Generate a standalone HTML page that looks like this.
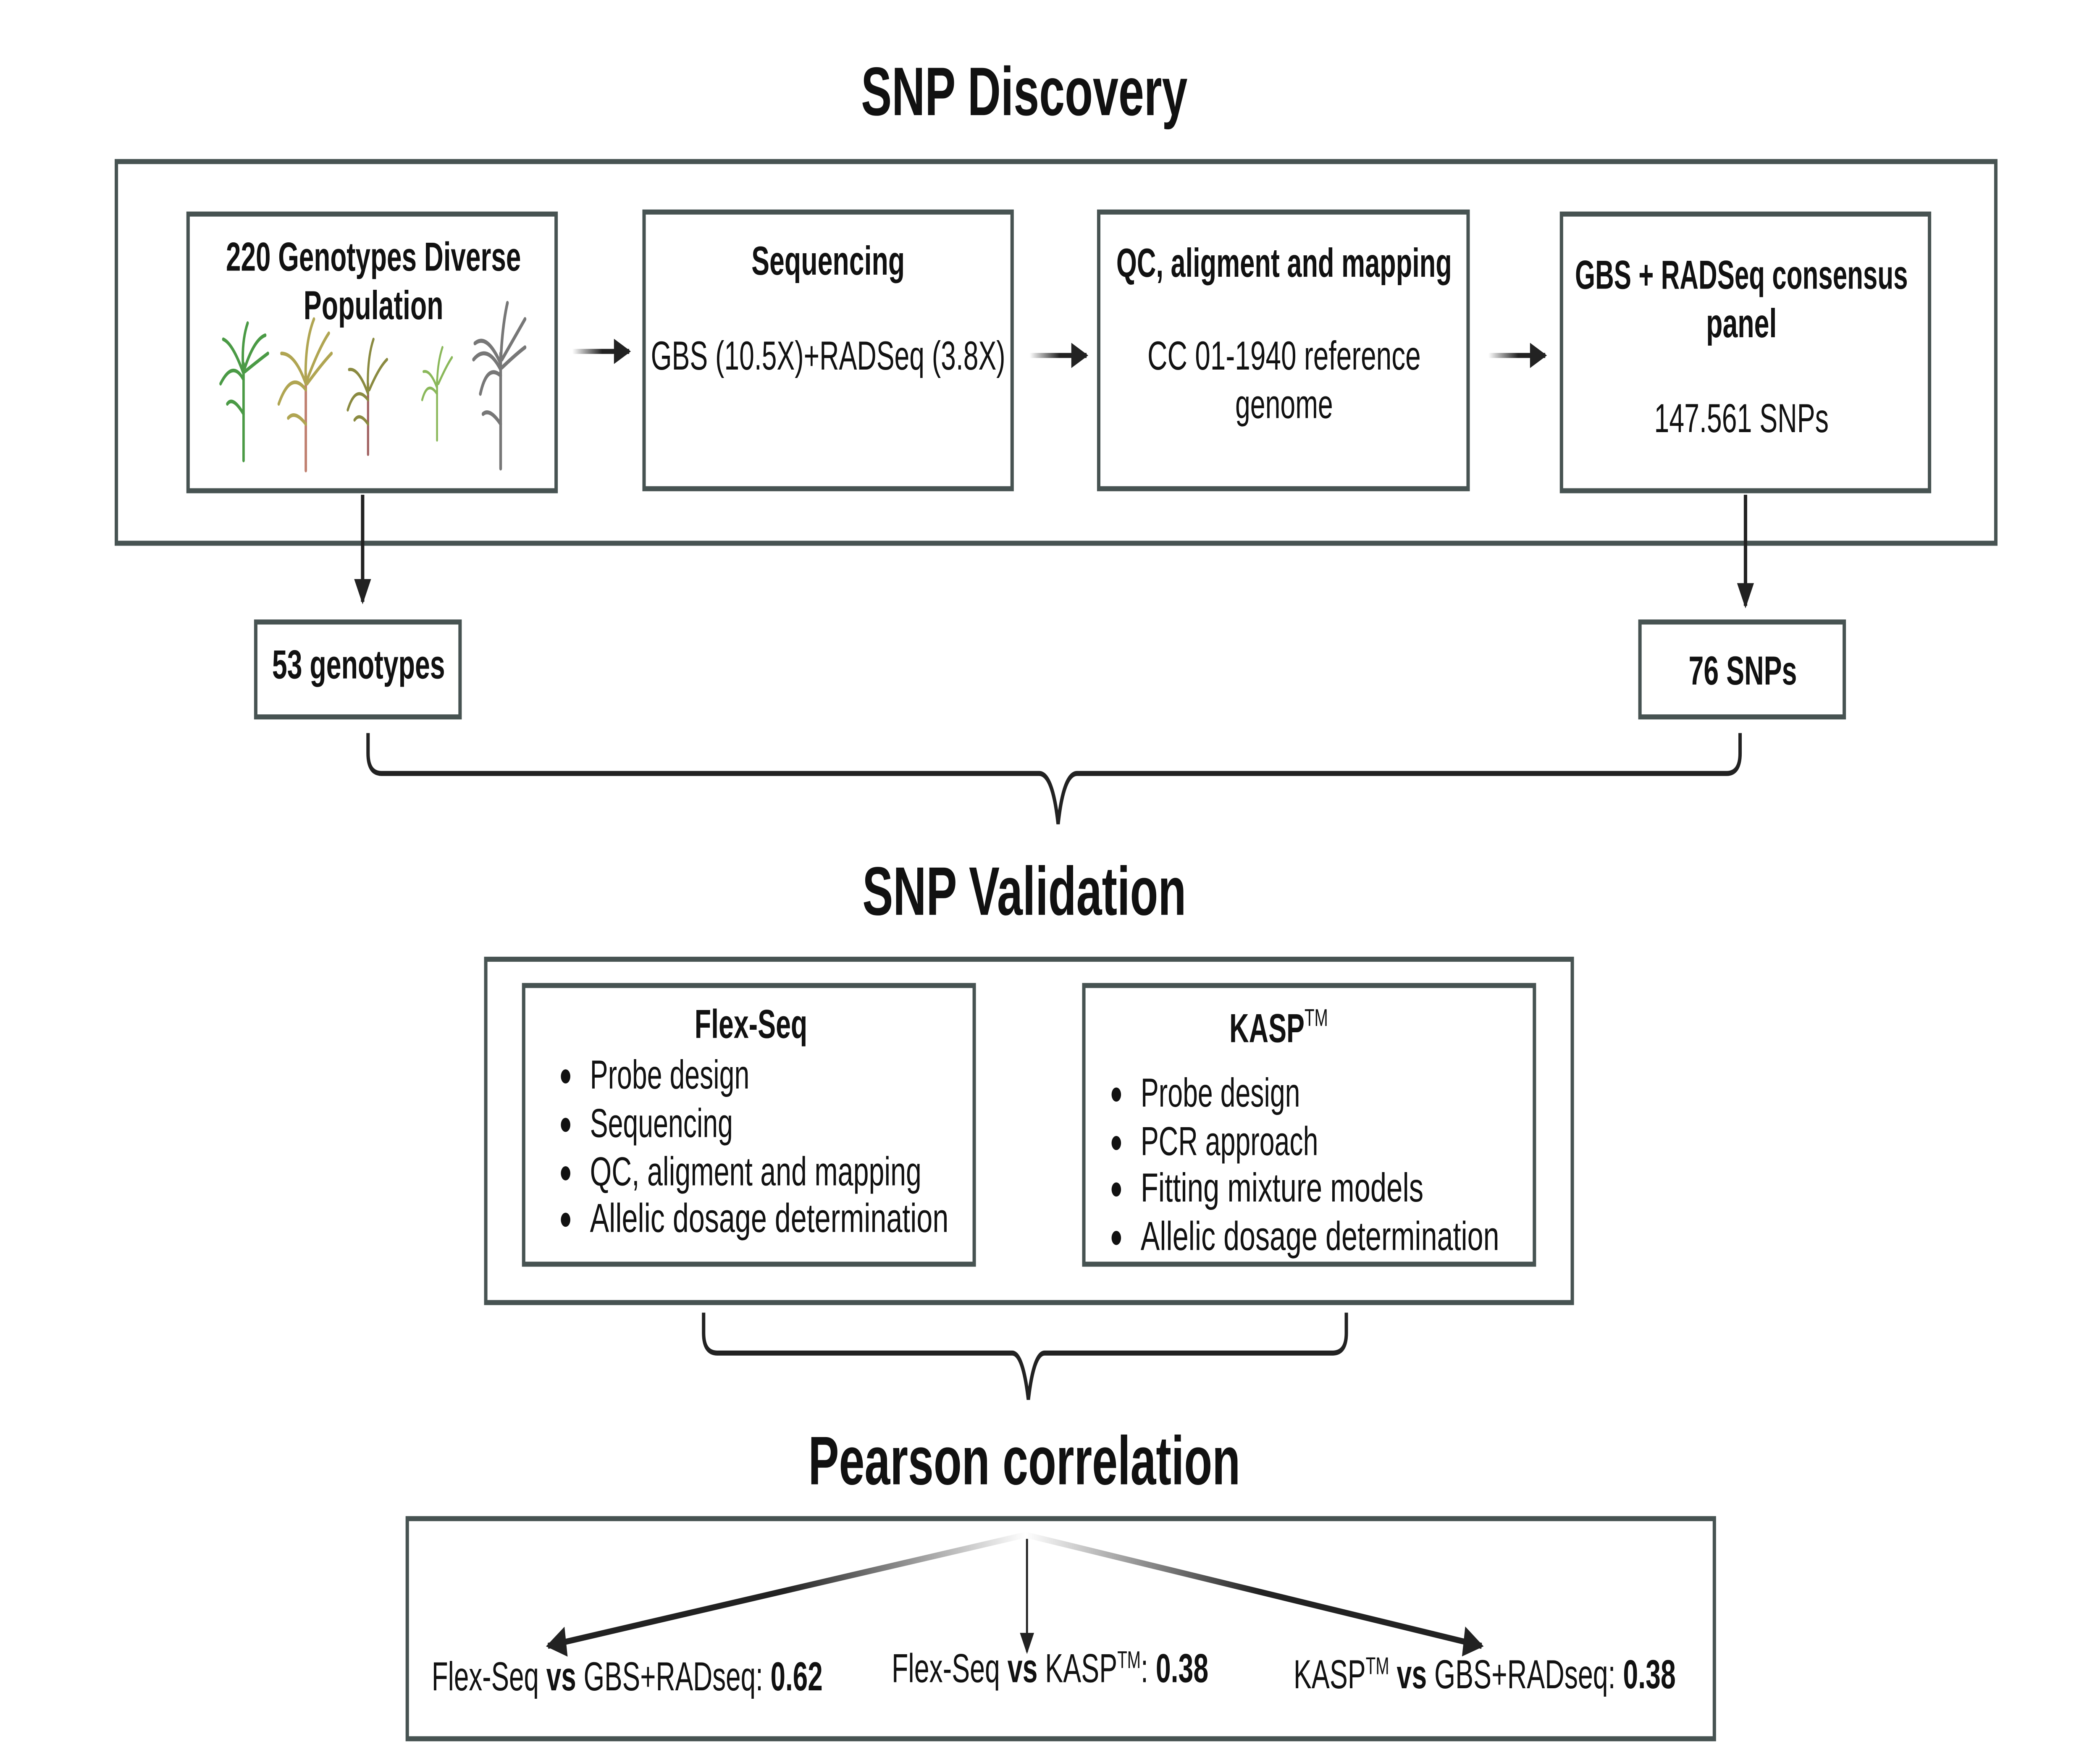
<!DOCTYPE html>
<html><head><meta charset="utf-8">
<style>html,body{margin:0;padding:0;background:#fff;overflow:hidden;width:100%;height:100%;}
svg{display:block;width:100vw;height:100vh;}
text{font-family:"Liberation Sans",sans-serif;fill:#111;}</style></head>
<body>
<svg viewBox="0 0 1552 873" preserveAspectRatio="none" xmlns="http://www.w3.org/2000/svg">
<defs>
<marker id="ah" viewBox="0 0 10 10" refX="9" refY="5" markerWidth="5.5" markerHeight="5" orient="auto" markerUnits="strokeWidth"><path d="M0,0 L10,5 L0,10 z" fill="#222"/></marker>
<marker id="ah2" viewBox="0 0 10 10" refX="9" refY="5" markerWidth="8" markerHeight="7" orient="auto" markerUnits="strokeWidth"><path d="M0,0 L10,5 L0,10 z" fill="#222"/></marker>
<linearGradient id="g1" gradientUnits="userSpaceOnUse" x1="423" y1="0" x2="445" y2="0"><stop offset="0" stop-color="#fff"/><stop offset="1" stop-color="#222"/></linearGradient>
<linearGradient id="g2" gradientUnits="userSpaceOnUse" x1="761" y1="0" x2="783" y2="0"><stop offset="0" stop-color="#fff"/><stop offset="1" stop-color="#222"/></linearGradient>
<linearGradient id="g3" gradientUnits="userSpaceOnUse" x1="1100" y1="0" x2="1122" y2="0"><stop offset="0" stop-color="#fff"/><stop offset="1" stop-color="#222"/></linearGradient>
<linearGradient id="gl" gradientUnits="userSpaceOnUse" x1="758" y1="0" x2="580" y2="0"><stop offset="0" stop-color="#fff"/><stop offset="1" stop-color="#222"/></linearGradient>
<linearGradient id="gr" gradientUnits="userSpaceOnUse" x1="758" y1="0" x2="930" y2="0"><stop offset="0" stop-color="#fff"/><stop offset="1" stop-color="#222"/></linearGradient>
</defs>
<g fill="none" stroke="#475352" stroke-width="2.5">
<rect x="86" y="80" width="1389" height="189"/>
<rect x="139" y="106" width="272" height="137"/>
<rect x="476" y="105" width="272" height="137"/>
<rect x="812" y="105" width="273" height="137"/>
<rect x="1154" y="106" width="272" height="137"/>
<rect x="189" y="308" width="151" height="47"/>
<rect x="1212" y="308" width="151" height="47"/>
<rect x="359" y="475" width="803" height="170"/>
<rect x="387" y="488" width="333" height="138"/>
<rect x="801" y="488" width="333" height="138"/>
<rect x="301" y="752" width="966" height="109"/>
</g>
<text x="757" y="57" font-size="34" font-weight="bold" text-anchor="middle">SNP Discovery</text>
<text x="757" y="453" font-size="34" font-weight="bold" text-anchor="middle">SNP Validation</text>
<text x="757" y="735" font-size="34" font-weight="bold" text-anchor="middle">Pearson correlation</text>

<g font-size="20">
<text x="276" y="134" font-weight="bold" text-anchor="middle" textLength="218" lengthAdjust="spacingAndGlyphs">220 Genotypes Diverse</text>
<text x="276" y="158" font-weight="bold" text-anchor="middle">Population</text>
<text x="612" y="136" font-weight="bold" text-anchor="middle">Sequencing</text>
<text x="612" y="183" text-anchor="middle" textLength="262" lengthAdjust="spacingAndGlyphs">GBS (10.5X)+RADSeq (3.8X)</text>
<text x="949" y="137" font-weight="bold" text-anchor="middle" textLength="248" lengthAdjust="spacingAndGlyphs">QC, aligment and mapping</text>
<text x="949" y="183" text-anchor="middle" textLength="202" lengthAdjust="spacingAndGlyphs">CC 01-1940 reference</text>
<text x="949" y="207" text-anchor="middle">genome</text>
<text x="1287" y="143" font-weight="bold" text-anchor="middle" textLength="246" lengthAdjust="spacingAndGlyphs">GBS + RADSeq consensus</text>
<text x="1287" y="167" font-weight="bold" text-anchor="middle">panel</text>
<text x="1287" y="214" text-anchor="middle">147.561 SNPs</text>
<text x="265" y="336" font-weight="bold" text-anchor="middle">53 genotypes</text>
<text x="1288" y="339" font-weight="bold" text-anchor="middle">76 SNPs</text>

<text x="555" y="514" font-weight="bold" text-anchor="middle">Flex-Seq</text>
<g><circle cx="418" cy="533" r="3.5" fill="#111"/><text x="436" y="539">Probe design</text>
<circle cx="418" cy="557" r="3.5" fill="#111"/><text x="436" y="563">Sequencing</text>
<circle cx="418" cy="581" r="3.5" fill="#111"/><text x="436" y="587" textLength="245" lengthAdjust="spacingAndGlyphs">QC, aligment and mapping</text>
<circle cx="418" cy="604" r="3.5" fill="#111"/><text x="436" y="610" textLength="265" lengthAdjust="spacingAndGlyphs">Allelic dosage determination</text></g>
<text x="945" y="516" font-weight="bold" text-anchor="middle">KASP<tspan font-size="12" font-weight="normal" dy="-8">TM</tspan></text>
<g><circle cx="825" cy="542" r="3.5" fill="#111"/><text x="843" y="548">Probe design</text>
<circle cx="825" cy="566" r="3.5" fill="#111"/><text x="843" y="572">PCR approach</text>
<circle cx="825" cy="589" r="3.5" fill="#111"/><text x="843" y="595" textLength="209" lengthAdjust="spacingAndGlyphs">Fitting mixture models</text>
<circle cx="825" cy="613" r="3.5" fill="#111"/><text x="843" y="619" textLength="265" lengthAdjust="spacingAndGlyphs">Allelic dosage determination</text></g>

<text x="319" y="837" textLength="289" lengthAdjust="spacingAndGlyphs">Flex-Seq <tspan font-weight="bold">vs</tspan> GBS+RADseq: <tspan font-weight="bold">0.62</tspan></text>
<text x="659" y="833">Flex-Seq <tspan font-weight="bold">vs</tspan> KASP<tspan font-size="12" dy="-7">TM</tspan><tspan dy="7">: </tspan><tspan font-weight="bold">0.38</tspan></text>
<text x="956" y="836">KASP<tspan font-size="12" dy="-7">TM</tspan><tspan dy="7" font-weight="bold"> vs</tspan> GBS+RADseq: <tspan font-weight="bold">0.38</tspan></text>
</g>

<g stroke-width="2.5" fill="none">
<line x1="423" y1="174" x2="465" y2="174" stroke="url(#g1)" marker-end="url(#ah)"/>
<line x1="761" y1="176" x2="803" y2="176" stroke="url(#g2)" marker-end="url(#ah)"/>
<line x1="1100" y1="176" x2="1142" y2="176" stroke="url(#g3)" marker-end="url(#ah)"/>
<line x1="268" y1="245" x2="268" y2="298" stroke="#222" marker-end="url(#ah)"/>
<line x1="1290" y1="245" x2="1290" y2="300" stroke="#222" marker-end="url(#ah)"/>
</g>
<g fill="none" stroke="#222" stroke-width="2.5">
<path d="M272,363 V373 Q272,383 282,383 H768 Q778,383 782,408 Q786,383 796,383 H1276 Q1286,383 1286,373 V363"/>
<path d="M520,650 V660 Q520,670 530,670 H748 Q756,670 760,693 Q764,670 772,670 H985 Q995,670 995,660 V650"/>
</g>
<g fill="none" stroke-width="3">
<path d="M758,760 L405,815" stroke="url(#gl)" marker-end="url(#ah)"/>
<path d="M758,760 L1095,815" stroke="url(#gr)" marker-end="url(#ah)"/>
</g>
<line x1="759" y1="762" x2="759" y2="818" stroke="#222" stroke-width="1.5" marker-end="url(#ah2)"/>

<g fill="none" stroke-linecap="round">
<g stroke="#4a9a45" stroke-width="1.8">
<path d="M180,228 V180"/><path d="M180,185 Q178,170 183,160 M180,185 Q172,170 165,168 M180,188 Q172,178 163,190 M181,182 Q188,168 196,166 M181,184 Q192,178 198,175 M180,205 Q172,196 168,200"/>
</g>
<g stroke="#b0a552" stroke-width="1.8">
<path d="M226,233 V185" stroke="#c08070"/><path d="M226,190 Q225,170 232,158 M226,190 Q218,175 208,175 M226,193 Q215,183 206,200 M227,188 Q236,172 243,165 M227,190 Q238,180 245,175 M226,210 Q218,203 213,207"/>
</g>
<g stroke="#8a8a40" stroke-width="1.6">
<path d="M272,225 V190" stroke="#a06060"/><path d="M272,195 Q271,178 276,168 M272,195 Q265,182 258,183 M272,198 Q263,190 257,203 M273,193 Q280,182 286,178 M272,210 Q266,204 262,208"/>
</g>
<g stroke="#8ab85a" stroke-width="1.4">
<path d="M323,218 V188"/><path d="M323,192 Q323,180 327,172 M323,192 Q318,183 313,184 M323,195 Q316,188 312,198 M324,190 Q330,181 334,177"/>
</g>
<g stroke="#777" stroke-width="2">
<path d="M370,232 V175"/><path d="M370,180 Q371,162 375,150 M370,180 Q360,165 351,170 M370,183 Q360,170 350,178 M370,186 Q360,180 355,195 M371,178 Q382,165 388,158 M371,182 Q382,175 388,172 M370,210 Q362,202 357,205"/>
</g>
</g>
</svg>
</body></html>
